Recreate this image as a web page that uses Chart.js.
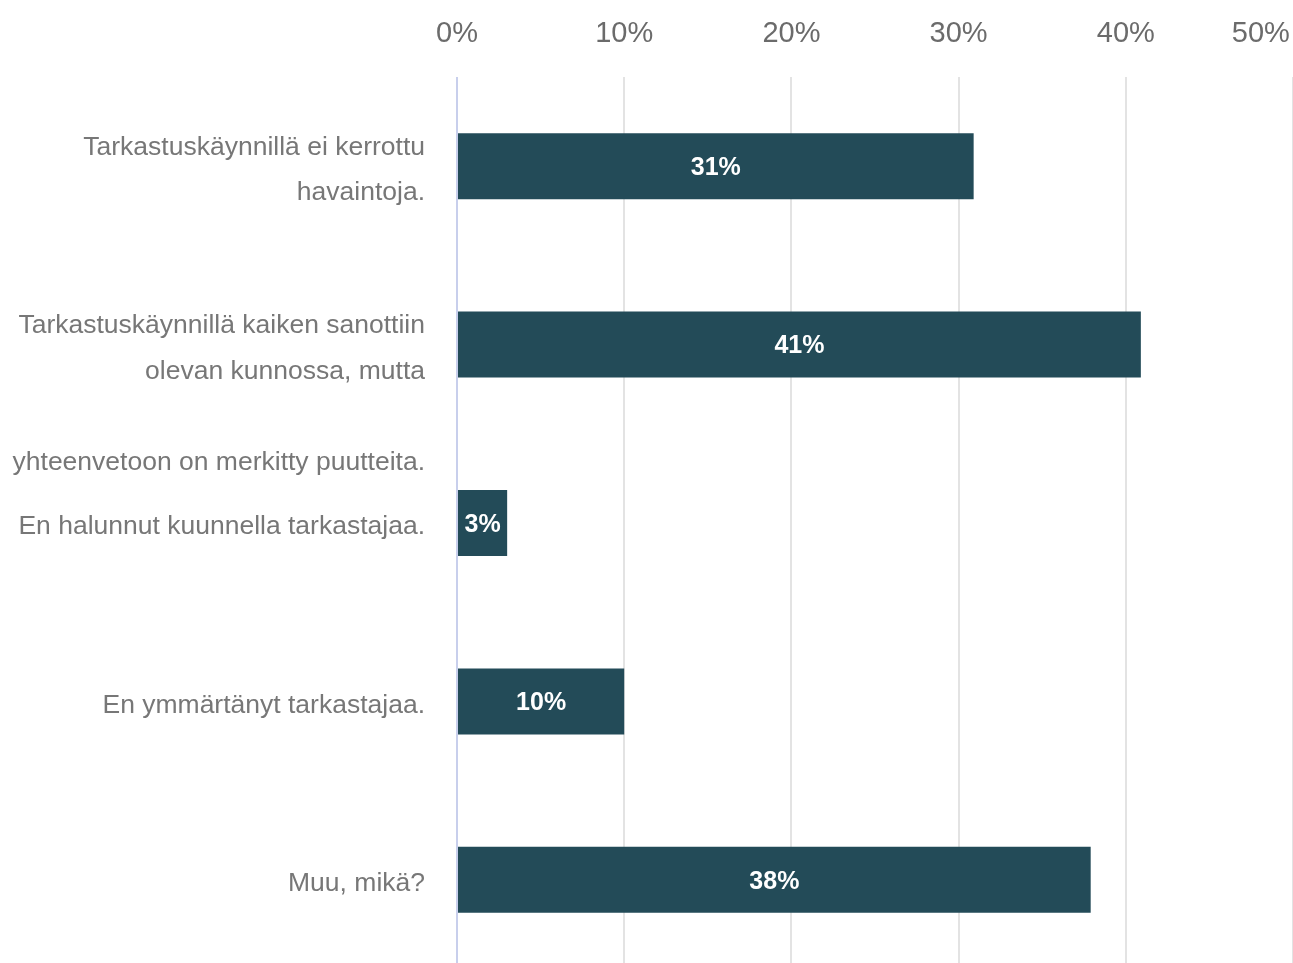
<!DOCTYPE html>
<html>
<head>
<meta charset="utf-8">
<script src="https://cdn.jsdelivr.net/npm/chart.js@4.4.1/dist/chart.umd.min.js"></script>
<style>
  html, body { margin: 0; padding: 0; background: #fff; overflow: hidden; }
  /* the plot runs slightly past the bottom edge, as in the original export */
  .container { width: 1293px; height: 969px; }
</style>
</head>
<body>
<div class="container"><canvas id="chart"></canvas></div>
<script>
const categories = [
  ['Tarkastuskäynnillä ei kerrottu', 'havaintoja.'],
  ['', '', 'Tarkastuskäynnillä kaiken sanottiin', 'olevan kunnossa, mutta', '', 'yhteenvetoon on merkitty puutteita.'],
  'En halunnut kuunnella tarkastajaa.',
  'En ymmärtänyt tarkastajaa.',
  'Muu, mikä?'
];
const shares = [30.9, 40.9, 3.0, 10.0, 37.9];
const shareLabels = ['31%', '41%', '3%', '10%', '38%'];
const tickValues = [0, 10, 20, 30, 40, 50];

const FONT = '"Liberation Sans", Arial, sans-serif';

// white value text centred in each bar
const barLabels = {
  id: 'barLabels',
  afterDatasetsDraw(chart) {
    const ctx = chart.ctx;
    const meta = chart.getDatasetMeta(0);
    ctx.save();
    ctx.font = '600 25px ' + FONT;
    ctx.fillStyle = '#ffffff';
    ctx.textAlign = 'center';
    ctx.textBaseline = 'middle';
    meta.data.forEach((bar, i) => {
      const p = bar.getProps(['x', 'y', 'base'], true);
      ctx.fillText(shareLabels[i], (p.x + p.base) / 2, p.y + 2);
    });
    ctx.restore();
  }
};

function renderChart() {
  const ctx = document.getElementById('chart');
  window._chart = new Chart(ctx, {
    type: 'bar',
    data: {
      labels: categories,
      datasets: [
        {
          data: shares,
          backgroundColor: '#234b58',
          borderWidth: 0,
          barPercentage: 0.37,
          categoryPercentage: 1,
        },
      ],
    },
    options: {
      indexAxis: 'y',
      responsive: true,
      maintainAspectRatio: false,
      animation: false,
      layout: { padding: 0 },
      plugins: { legend: { display: false }, tooltip: { enabled: false } },
      scales: {
        x: {
          position: 'top',
          min: 0,
          max: 50,
          afterBuildTicks: (scale) => {
            scale.ticks = tickValues.map((v) => ({ value: v }));
          },
          afterFit: (scale) => {
            scale.height = 77;
            scale.paddingLeft = 0;
            scale.paddingRight = 0;
          },
          border: { display: false },
          grid: {
            drawTicks: false,
            color: (c) => (c.tick && c.tick.value === 0 ? '#c8cfec' : '#e3e3e3'),
            lineWidth: 2,
          },
          ticks: {
            padding: 26,
            maxRotation: 0,
            color: '#6b6b6b',
            font: { family: FONT, size: 29 },
            callback: (v) => (v === 50 ? '50%        ' : v + '%'),
          },
        },
        y: {
          afterFit: (scale) => {
            scale.width = 457;
            scale.paddingTop = 0;
            scale.paddingBottom = 0;
          },
          border: { display: false },
          grid: { display: false },
          ticks: {
            autoSkip: false,
            padding: 24,
            labelOffset: 4,
            color: '#777777',
            font: { family: FONT, size: 26.5, lineHeight: 1.72 },
          },
        },
      },
    },
    plugins: [barLabels],
  });
}

document.addEventListener('DOMContentLoaded', renderChart);
</script>
</body>
</html>
